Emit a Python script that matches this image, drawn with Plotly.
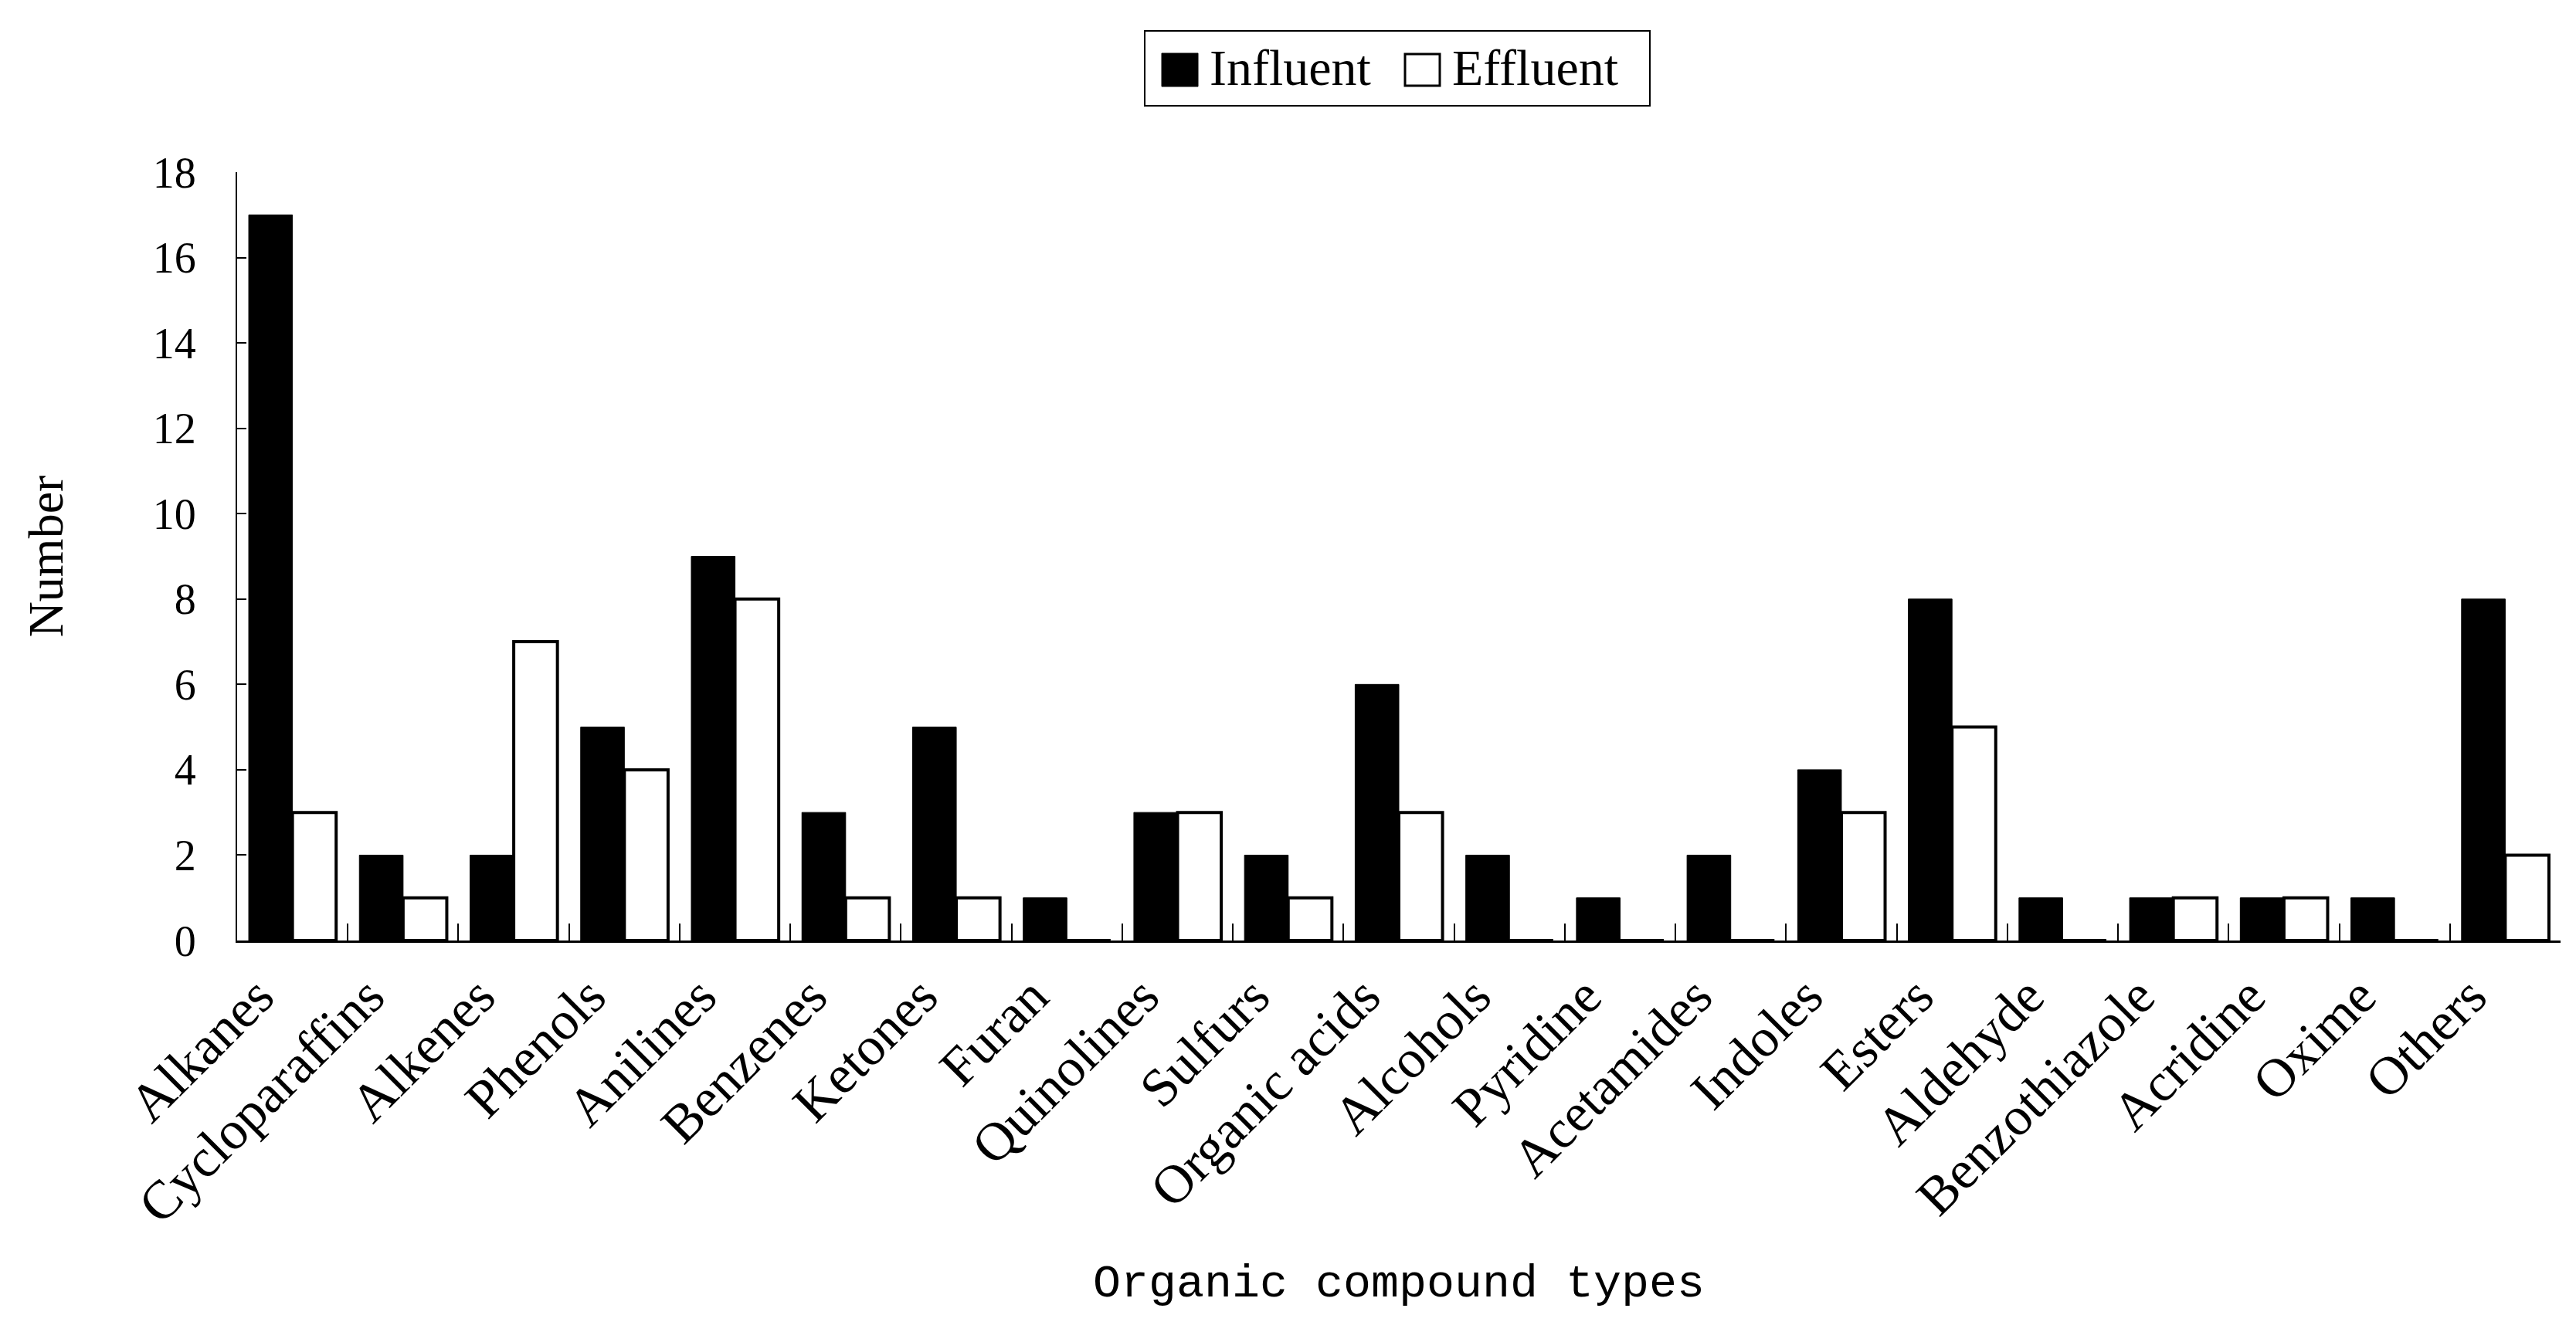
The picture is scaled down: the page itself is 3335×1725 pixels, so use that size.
import plotly.graph_objects as go

# data
categories = ["Alkanes", "Cycloparaffins", "Alkenes", "Phenols", "Anilines",
              "Benzenes", "Ketones", "Furan", "Quinolines", "Sulfurs",
              "Organic acids", "Alcohols", "Pyridine", "Acetamides", "Indoles",
              "Esters", "Aldehyde", "Benzothiazole", "Acridine", "Oxime", "Others"]
influent = [17, 2, 2, 5, 9, 3, 5, 1, 3, 2, 6, 2, 1, 2, 4, 8, 1, 1, 1, 1, 8]
effluent = [3, 1, 7, 4, 8, 1, 1, 0, 3, 1, 3, 0, 0, 0, 3, 5, 0, 1, 1, 0, 2]
series_names = ["Influent", "Effluent"]
y_ticks = [0, 2, 4, 6, 8, 10, 12, 14, 16, 18]

W, H = 3335, 1725
L, R, T, B = 299, 28, 215, 515
SERIF = "Liberation Serif"

def px(x):  # pixel -> paper x
    return (x - L) / (W - L - R)

def py(y):  # pixel -> paper y
    return (H - B - y) / (H - T - B)

fig = go.Figure()
fig.add_trace(go.Bar(x=categories, y=influent, name=series_names[0],
                     marker=dict(color="black", line=dict(color="black", width=1)),
                     showlegend=False))
fig.add_trace(go.Bar(x=categories, y=effluent, name=series_names[1],
                     marker=dict(color="white", line=dict(color="black", width=4)),
                     showlegend=False))

fig.update_layout(
    width=W, height=H,
    margin=dict(l=L, r=R, t=T, b=B),
    plot_bgcolor="white", paper_bgcolor="white",
    barmode="group", bargap=0.21, bargroupgap=0,
    font=dict(family=SERIF, color="black"),
)
fig.update_xaxes(
    showline=True, linecolor="black", linewidth=3,
    ticks="inside", tickson="boundaries", ticklen=22, tickwidth=2, tickcolor="black",
    tickangle=-45, tickfont=dict(family=SERIF, size=70), ticklabelshift=-45,
    showgrid=False, zeroline=False,
    title=dict(text="Organic compound types",
               font=dict(family="Liberation Mono", size=60), standoff=40),
)
fig.update_yaxes(
    range=[0, 18], tickvals=y_ticks,
    showline=True, linecolor="black", linewidth=2,
    ticks="inside", ticklen=12, tickwidth=2, tickcolor="black",
    tickfont=dict(family=SERIF, size=56), ticklabelstandoff=40,
    showgrid=False, zeroline=False,
    title=dict(text="Number", font=dict(family=SERIF, size=64), standoff=95),
)

# legend drawn by hand so the swatches get the reference's size
fig.add_shape(type="rect", xref="paper", yref="paper",
              x0=px(1474), x1=px(2128), y0=py(129), y1=py(32),
              line=dict(color="black", width=2), fillcolor="white")
fig.add_shape(type="rect", xref="paper", yref="paper",
              x0=px(1496), x1=px(1543), y0=py(104), y1=py(61),
              line=dict(color="black", width=1), fillcolor="black")
fig.add_shape(type="rect", xref="paper", yref="paper",
              x0=px(1811), x1=px(1856), y0=py(103), y1=py(62),
              line=dict(color="black", width=3), fillcolor="white")
fig.add_annotation(xref="paper", yref="paper", x=px(1556), y=py(80),
                   xanchor="left", yanchor="middle", showarrow=False,
                   text=series_names[0], font=dict(family=SERIF, size=66))
fig.add_annotation(xref="paper", yref="paper", x=px(1870), y=py(80),
                   xanchor="left", yanchor="middle", showarrow=False,
                   text=series_names[1], font=dict(family=SERIF, size=66))

fig.write_html("out.html")
